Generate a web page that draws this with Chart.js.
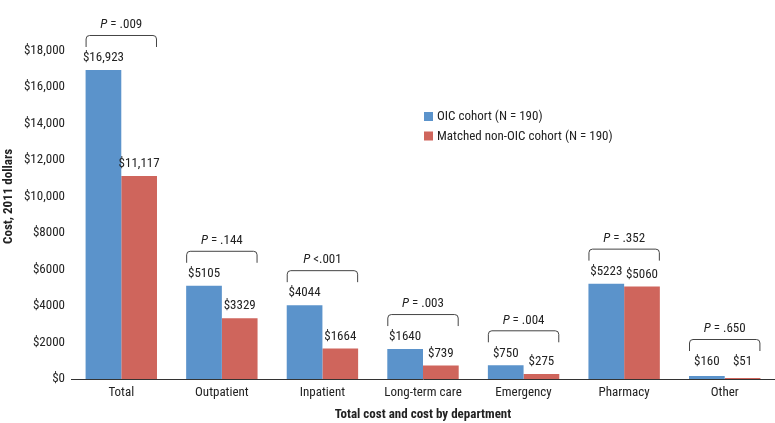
<!DOCTYPE html>
<html>
<head>
<meta charset="utf-8">
<script src="https://cdn.jsdelivr.net/npm/chart.js@4"></script>
<style>
  html, body { margin: 0; padding: 0; background: #fff; }
  #wrap { width: 775px; height: 423px; }
</style>
</head>
<body>
<div id="wrap"><canvas id="costChart" width="775" height="423"></canvas></div>
<script>
// data
const categories = ['Total', 'Outpatient', 'Inpatient', 'Long-term care', 'Emergency', 'Pharmacy', 'Other'];
const oicCosts = [16923, 5105, 4044, 1640, 750, 5223, 160];
const nonOicCosts = [11117, 3329, 1664, 739, 275, 5060, 51];
const pValues = ['= .009', '= .144', '<.001', '= .003', '= .004', '= .352', '= .650'];
const seriesLabels = ['OIC cohort (N = 190)', 'Matched non-OIC cohort (N = 190)'];

const FONT = "'Liberation Sans Narrow', 'Roboto Condensed', Arial, sans-serif";
const BLUE = '#5b93cb';
const RED = '#cf655c';
const TEXT = '#222';

Chart.defaults.font.family = FONT;
Chart.defaults.font.size = 13;
Chart.defaults.color = TEXT;

function money(v) {
    return v >= 10000 ? '$' + v.toLocaleString('en-US') : '$' + v;
}

// value labels, p-value brackets and legend
const annotations = {
    id: 'annotations',
    afterDatasetsDraw(chart) {
        const ctx = chart.ctx;
        const yScale = chart.scales.y;
        const m0 = chart.getDatasetMeta(0).data;
        const m1 = chart.getDatasetMeta(1).data;
        const floorY = yScale.getPixelForValue(0) - 17;
        ctx.save();
        ctx.textAlign = 'center';
        ctx.textBaseline = 'middle';
        ctx.fillStyle = TEXT;
        categories.forEach((c, i) => {
            const b0 = m0[i], b1 = m1[i];
            const l0 = Math.min(b0.y - 12, floorY);
            const l1 = Math.min(b1.y - 12, floorY);
            ctx.font = '13px ' + FONT;
            ctx.fillText(money(oicCosts[i]), b0.x, l0);
            ctx.fillText(money(nonOicCosts[i]), b1.x, l1);

            // bracket
            const left = b0.x - b0.width / 2;
            const right = b1.x + b1.width / 2;
            const bottom = Math.min(l0, l1) - 11;
            const top = bottom - 12;
            const r = 4;
            ctx.strokeStyle = '#444';
            ctx.lineWidth = 1;
            ctx.beginPath();
            ctx.moveTo(left + 0.5, bottom);
            ctx.lineTo(left + 0.5, top + r);
            ctx.quadraticCurveTo(left + 0.5, top + 0.5, left + r, top + 0.5);
            ctx.lineTo(right - r, top + 0.5);
            ctx.quadraticCurveTo(right - 0.5, top + 0.5, right - 0.5, top + r);
            ctx.lineTo(right - 0.5, bottom);
            ctx.stroke();

            // p value text, italic P
            const mid = (left + right) / 2;
            const rest = ' ' + pValues[i];
            ctx.font = 'italic 13px ' + FONT;
            const wp = ctx.measureText('P').width;
            ctx.font = '13px ' + FONT;
            const wr = ctx.measureText(rest).width;
            const sx = mid - (wp + wr) / 2;
            const ty = top - 10;
            ctx.textAlign = 'left';
            ctx.font = 'italic 13px ' + FONT;
            ctx.fillText('P', sx, ty);
            ctx.font = '13px ' + FONT;
            ctx.fillText(rest, sx + wp, ty);
            ctx.textAlign = 'center';
        });

        // legend
        ctx.textAlign = 'left';
        ctx.font = '13px ' + FONT;
        [BLUE, RED].forEach((col, k) => {
            const y = 112 + k * 19.5;
            ctx.fillStyle = col;
            ctx.fillRect(424, y, 9, 9);
            ctx.fillStyle = TEXT;
            ctx.fillText(seriesLabels[k], 437, y + 5);
        });
        ctx.restore();
    }
};

new Chart(document.getElementById('costChart'), {
    type: 'bar',
    data: {
        labels: categories,
        datasets: [
            { label: seriesLabels[0], data: oicCosts, backgroundColor: BLUE },
            { label: seriesLabels[1], data: nonOicCosts, backgroundColor: RED }
        ]
    },
    options: {
        responsive: false,
        animation: false,
        layout: { padding: { top: 7, right: 0, left: 0, bottom: 0 } },
        datasets: { bar: { barPercentage: 1, categoryPercentage: 0.71 } },
        plugins: {
            legend: { display: false },
            tooltip: { enabled: false }
        },
        scales: {
            x: {
                grid: { display: false, drawTicks: false },
                border: { display: true, color: '#333', width: 1 },
                ticks: { padding: 6, font: { size: 13 } },
                title: {
                    display: true,
                    text: 'Total cost and cost by department',
                    font: { size: 13, weight: 'bold' },
                    padding: { top: 4, bottom: 0 }
                },
                afterFit(scale) { scale.height = 44; }
            },
            y: {
                min: 0,
                max: 20000,
                grid: { display: false, drawTicks: false },
                border: { display: false },
                ticks: {
                    stepSize: 2000,
                    padding: 6,
                    font: { size: 13 },
                    callback: v => (v > 18000 ? '' : money(v))
                },
                title: {
                    display: true,
                    text: 'Cost, 2011 dollars',
                    font: { size: 13, weight: 'bold' },
                    padding: { top: 1, bottom: 4 }
                },
                afterFit(scale) { scale.width = 71; }
            }
        }
    },
    plugins: [annotations]
});
</script>
</body>
</html>
